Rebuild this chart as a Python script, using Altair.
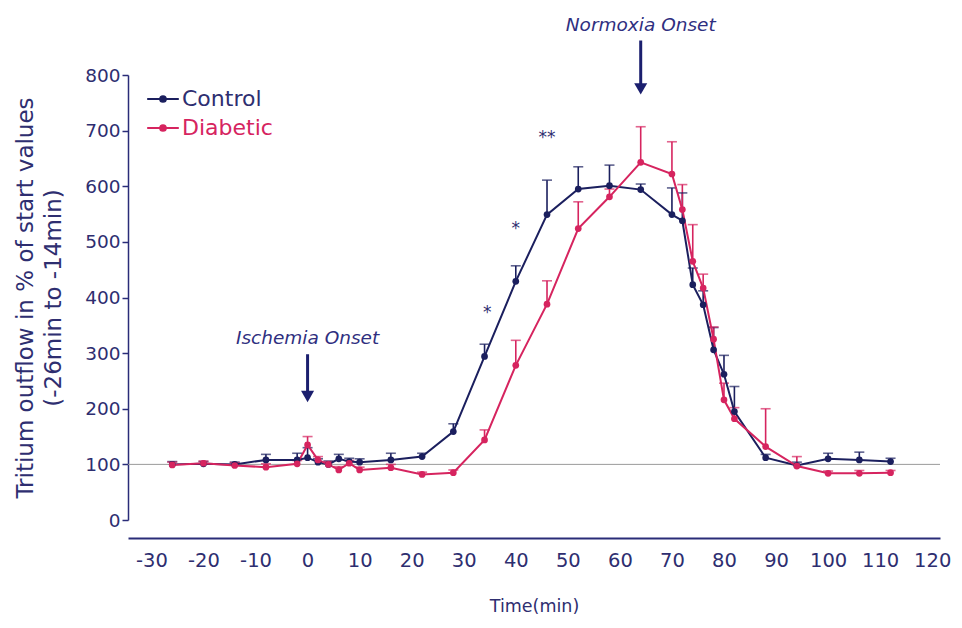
import altair as alt
import pandas as pd

# ---- data ----
times = [-26, -20, -14, -8, -2, 0, 2, 4, 6, 8, 10, 16, 22, 28, 34, 40, 46, 52, 58,
         64, 70, 72, 74, 76, 78, 80, 82, 88, 94, 100, 106, 112]
control = [100, 101, 100, 108, 108, 112, 104, 100, 110, 105, 104, 108, 114, 159, 294,
           429, 549, 595, 601, 594, 549, 538, 423, 387, 306, 262, 195, 112, 98, 110, 108, 105]
control_err = [5, 4, 4, 10, 12, 18, 6, 6, 8, 6, 6, 12, 6, 14, 22, 28, 62, 40, 37, 10,
               48, 50, 30, 25, 40, 34, 45, 6, 6, 10, 14, 6]
diabetic = [99, 102, 98, 95, 101, 135, 108, 100, 90, 102, 90, 94, 82, 85, 144, 278,
            388, 524, 581, 643, 622, 558, 465, 417, 325, 216, 182, 132, 97, 84, 84, 85]
diabetic_err = [5, 4, 5, 6, 6, 15, 6, 5, 6, 5, 5, 6, 4, 5, 18, 45, 42, 48, 14, 64, 58,
                45, 66, 25, 22, 30, 20, 68, 17, 4, 5, 4]

series_names = ["Control", "Diabetic"]
series_colors = ["#1b1f5e", "#d6245f"]
x_ticks = [-30, -20, -10, 0, 10, 20, 30, 40, 50, 60, 70, 80, 90, 100, 110, 120]
y_ticks = [0, 100, 200, 300, 400, 500, 600, 700, 800]

arrow_t = [0, 64]
arrow_top = [298, 862]
arrow_bottom = [222, 775]
arrow_label = ["Ischemia Onset", "Normoxia Onset"]
arrow_label_y = [327, 890]

star_t = [34.5, 40, 46]
star_y = [372, 523, 686]
star_text = ["*", "*", "**"]

TEXT = "#2e2e70"
AXIS = "#2a2c78"
FONT = "DejaVu Sans"

rows = []
for name, vals, errs in [("Control", control, control_err), ("Diabetic", diabetic, diabetic_err)]:
    for t, v, e in zip(times, vals, errs):
        rows.append({"series": name, "t": t, "value": v, "upper": v + e})
df = pd.DataFrame(rows)

arrows = pd.DataFrame({"t": arrow_t, "top": arrow_top, "bottom": arrow_bottom,
                       "label": arrow_label, "ly": arrow_label_y})
stars = pd.DataFrame({"t": star_t, "y": star_y, "s": star_text})

xscale = alt.Scale(domain=[-34.5, 121.5], nice=False, zero=False)
yscale = alt.Scale(domain=[0, 800], nice=False)
color = alt.Color(
    "series:N",
    scale=alt.Scale(domain=series_names, range=series_colors),
    legend=alt.Legend(
        title=None, orient="none", legendX=18, legendY=7,
        symbolType="M-1,0H1M-0.18,0A0.18,0.18 0 1,0 0.18,0A0.18,0.18 0 1,0 -0.18,0Z",
        symbolSize=1000, symbolStrokeWidth=2, symbolOpacity=1,
        labelFont=FONT, labelFontSize=22, labelOffset=2,
        labelColor=alt.ExprRef(expr="datum.label == 'Control' ? '#2e2e70' : '#d6245f'"),
        rowPadding=1,
    ),
)

x_enc = alt.X("t:Q", scale=xscale,
              axis=alt.Axis(values=x_ticks, title="Time(min)", ticks=False, grid=False,
                            offset=18, domainColor=AXIS, domainWidth=2, labelPadding=13,
                            labelExpr="'' + datum.value",
                            labelFontSize=19.5, labelColor=TEXT, labelFont=FONT,
                            titleFont=FONT, titleFontSize=17.5, titleColor=TEXT,
                            titleFontWeight="normal", titlePadding=28, labelFlush=False))
y_enc = alt.Y("value:Q", scale=yscale,
              axis=alt.Axis(values=y_ticks,
                            title=["Tritium  outflow in % of start values", "(-26min to -14min)"],
                            grid=False, domainColor=AXIS, domainWidth=1.5, tickColor=AXIS,
                            tickSize=6, tickWidth=1.5, labelPadding=2, labelFontSize=18.5,
                            labelColor=TEXT, labelFont=FONT, titleFont=FONT, titleFontSize=23,
                            titleColor=TEXT, titleFontWeight="normal", titlePadding=19,
                            titleLineHeight=28))

base = alt.Chart(df)

ref = alt.Chart(pd.DataFrame({"y": [100]})).mark_rule(color="#9a9a9a", strokeWidth=1).encode(
    y=alt.Y("y:Q", scale=yscale))

err = base.mark_rule(strokeWidth=1.6).encode(x=x_enc, y=y_enc, y2="upper:Q", color=color)
cap = base.mark_tick(orient="horizontal", size=10, thickness=1.6).encode(
    x="t:Q", y="upper:Q", color=color)
line = base.mark_line(strokeWidth=2).encode(x="t:Q", y="value:Q", color=color)
pts = base.mark_point(filled=True, size=45, opacity=1).encode(x="t:Q", y="value:Q", color=color)

ab = alt.Chart(arrows)
shaft = ab.mark_rule(color="#1b1f6e", strokeWidth=3).encode(x="t:Q", y="top:Q", y2="bottom:Q")
head = ab.mark_point(shape="triangle-down", filled=True, size=170, color="#1b1f6e",
                     opacity=1).encode(x="t:Q", y="bottom:Q")
atext = ab.mark_text(font=FONT, fontSize=18.5, fontStyle="italic", color="#2f2f80").encode(
    x="t:Q", y="ly:Q", text="label:N")

stext = alt.Chart(stars).mark_text(font=FONT, fontSize=17, color=TEXT).encode(
    x="t:Q", y="y:Q", text="s:N")

chart = alt.layer(ref, err, cap, line, pts, shaft, head, atext, stext).properties(
    width=812, height=445,
    padding={"left": 128, "top": 75, "right": 22, "bottom": 108},
    autosize=alt.AutoSizeParams(type="none"),
    background="white",
).configure_view(stroke=None)

chart.save("out.html", embed_options={"renderer": "svg", "actions": False})
